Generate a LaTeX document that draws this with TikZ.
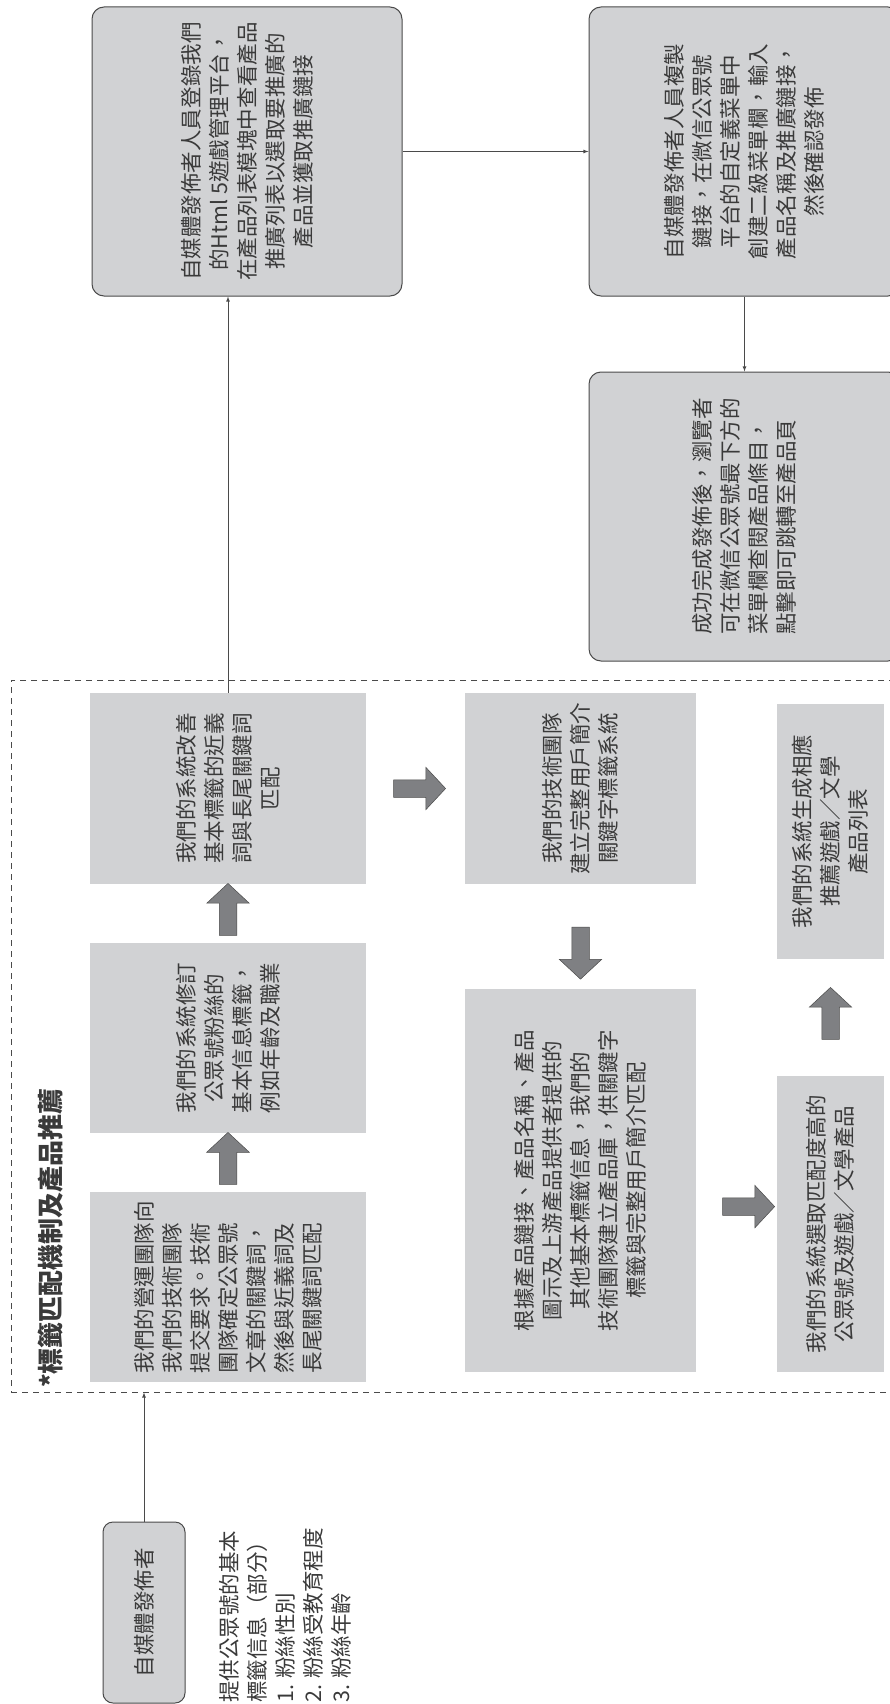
\documentclass[tikz,border=0pt]{standalone}
\usepackage{fontspec}
\newfontfamily\cjk{Noto Sans CJK TC}
\usetikzlibrary{shapes.arrows,calc}
\definecolor{boxgray}{HTML}{D1D2D4}
\definecolor{edgegray}{HTML}{4A4A4A}
\definecolor{arrgray}{HTML}{7F8083}
\definecolor{txtgray}{HTML}{3A3A3A}
\newcommand{\bigarr}[5]{\node[bigarrow,rotate=#5] (#1) at ($(#2)!#4!(#3)$) {}; }

\begin{document}
\begin{tikzpicture}[x=1pt,y=-1pt,>=latex,
  every node/.style={font=\cjk\fontsize{21.5}{28}\selectfont,text=txtgray,inner sep=0pt},
  stepbox/.style={rotate=90,fill=boxgray,align=center},
  roundbox/.style={stepbox,draw=edgegray,line width=1pt,rounded corners=12pt},
  bigarrow/.style={single arrow,fill=arrgray,draw=edgegray,line width=0.5pt,inner xsep=0pt,inner ysep=8.5pt,
    minimum height=52pt,single arrow head extend=12.5pt,single arrow tip angle=94},
  flow/.style={->,draw=edgegray,line width=0.8pt}]
  \useasboundingbox (0,0) rectangle (889,1704);

  % dashed group
  \node[draw=edgegray,dash pattern=on 6pt off 5pt,line width=0.8pt,minimum width=889pt,minimum height=712pt] (grp) at (455.5,1036) {};
  \node[rotate=90,anchor=west,font=\cjk\bfseries\fontsize{26}{30}\selectfont] (title) at (51,1388) {*標籤匹配機制及產品推薦};

  % inside the group
  \node[stepbox,align=left,minimum width=190pt,minimum height=276pt] (A) at (228,1287)
    {我們的營運團隊向\\我們的技術團隊\\提交要求。技術\\團隊確定公眾號\\文章的關鍵詞，\\然後與近義詞及\\長尾關鍵詞匹配};
  \node[stepbox,minimum width=190pt,minimum height=276pt] (B) at (228,1038)
    {我們的系統修訂\\公眾號粉絲的\\基本信息標籤，\\例如年齡及職業};
  \node[stepbox,minimum width=191pt,minimum height=276pt] (C) at (228,788.5)
    {我們的系統改善\\基本標籤的近義\\詞與長尾關鍵詞\\匹配};
  \node[stepbox,minimum width=191pt,minimum height=231pt] (D) at (580.5,788.5)
    {我們的技術團隊\\建立完整用戶簡介\\關鍵字標籤系統};
  \node[stepbox,minimum width=383pt,minimum height=231pt] (E) at (580.5,1180.5)
    {根據產品鏈接、產品名稱、產品\\圖示及上游產品提供者提供的\\其他基本標籤信息，我們的\\技術團隊建立產品庫，供關鍵字\\標籤與完整用戶簡介匹配};
  \node[stepbox,minimum width=296pt,minimum height=107pt] (F) at (830.5,1224)
    {我們的系統選取匹配度高的\\公眾號及遊戲／文學產品};
  \node[stepbox,minimum width=255pt,minimum height=107pt] (G) at (830.5,831.5)
    {我們的系統生成相應\\推薦遊戲／文學\\產品列表};

  \bigarr{ab}{A.east}{B.west}{.5}{90}
  \bigarr{bc}{B.east}{C.west}{.5}{90}
  \bigarr{cd}{C.south}{D.north}{.5}{0}
  \bigarr{de}{D.west}{E.east}{.62}{-90}
  \bigarr{ef}{E.south}{F.north}{.6}{0}
  \bigarr{fg}{F.east}{G.west}{.5}{90}

  % outside the group
  \node[roundbox,minimum width=289pt,minimum height=310pt] (hbox) at (247,151.5)
    {自媒體發佈者人員登錄我們\\的Html 5遊戲管理平台，\\在產品列表模塊中查看產品\\推廣列表以選取要推廣的\\產品並獲取推廣鏈接};
  \node[roundbox,minimum width=289pt,minimum height=311pt] (wbox) at (744.5,151.5)
    {自媒體發佈者人員複製\\鏈接，在微信公眾號\\平台的自定義菜單中\\創建二級菜單欄，輸入\\產品名稱及推廣鏈接，\\然後確認發佈};
  \node[roundbox,align=left,minimum width=289pt,minimum height=311pt] (sbox) at (744.5,516.5)
    {成功完成發佈後，瀏覽者\\可在微信公眾號最下方的\\菜單欄查閱產品條目，\\點擊即可跳轉至產品頁};
  \node[roundbox,rounded corners=10pt,minimum width=181pt,minimum height=82pt] (pub) at (144,1612.5) {自媒體發佈者};
  \node[rotate=90,anchor=north west,align=left] (notes) at (219,1703)
    {提供公眾號的基本\\標籤信息（部分）\\1. 粉絲性別\\2. 粉絲受教育程度\\3. 粉絲年齡};

  \draw[flow] (C.east) -- (C.east |- hbox.west);
  \draw[flow] (hbox.south) -- (wbox.north);
  \draw[flow] (wbox.west) -- (sbox.east);
  \draw[flow] (pub.east) -- (pub.east |- grp.south);
\end{tikzpicture}
\end{document}
